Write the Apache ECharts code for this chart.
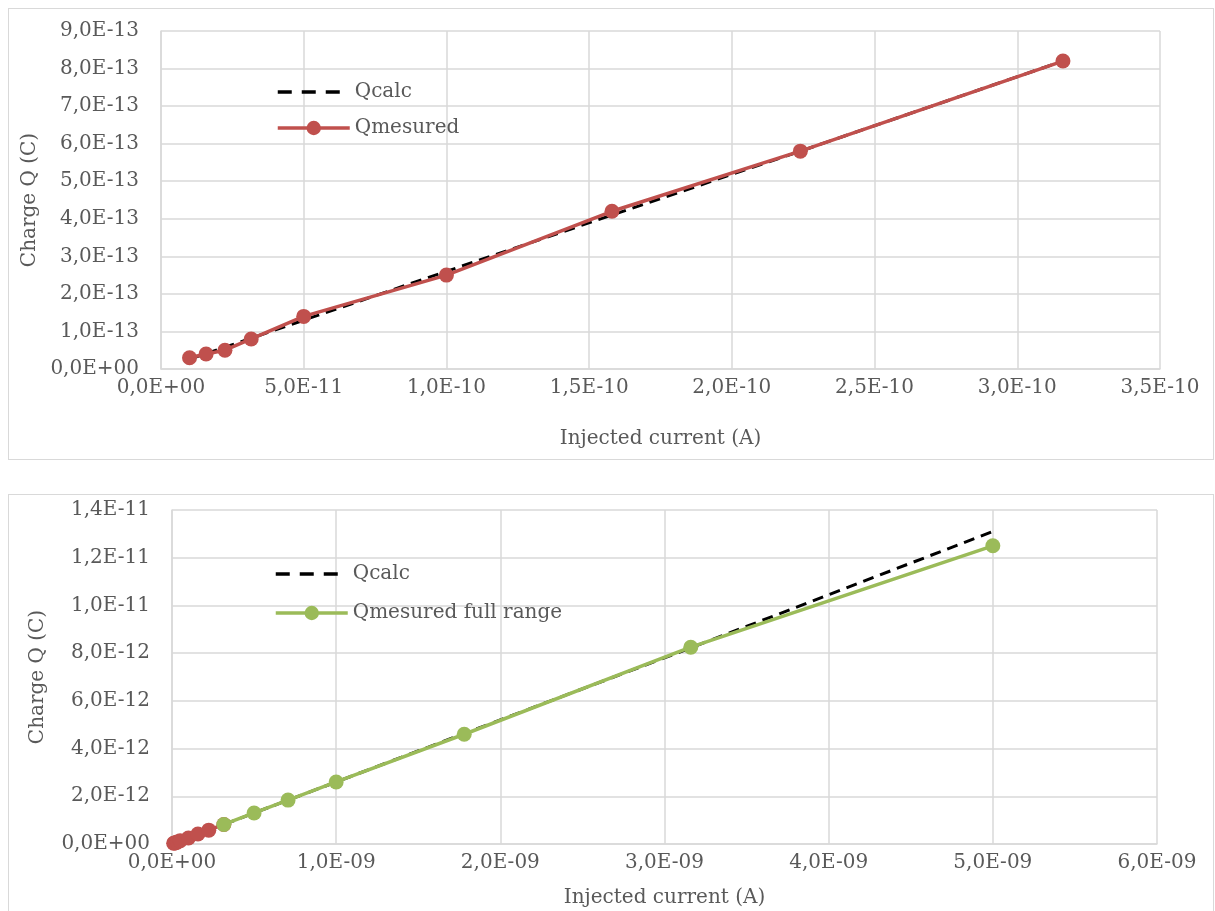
<!DOCTYPE html>
<html>
<head>
<meta charset="utf-8">
<script src="https://cdn.jsdelivr.net/npm/echarts@6/dist/echarts.min.js"></script>
<style>
  body { margin: 0; background: #fff; }
  .box { position: absolute; left: 8px; width: 1204px; border: 1px solid #d9d9d9; background: #fff; }
  #top { top: 8px; height: 450px; }
  #bottom { top: 494px; height: 430px; }
</style>
</head>
<body>
<div id="top" class="box"></div>
<div id="bottom" class="box"></div>
<script>
// top chart data
var currentTop = [1e-11, 1.58e-11, 2.24e-11, 3.16e-11, 5e-11, 1e-10, 1.58e-10, 2.24e-10, 3.16e-10];
var qcalcTop = [2.6e-14, 4.1e-14, 5.8e-14, 8.2e-14, 1.3e-13, 2.6e-13, 4.1e-13, 5.8e-13, 8.2e-13];
var qmesTop = [3e-14, 4e-14, 5e-14, 8e-14, 1.4e-13, 2.5e-13, 4.2e-13, 5.8e-13, 8.2e-13];

// bottom chart data
var currentFull = [3.16e-10, 5e-10, 7.07e-10, 1e-9, 1.78e-9, 3.16e-9, 5e-9];
var qcalcFull = [8.2e-13, 1.3e-12, 1.84e-12, 2.6e-12, 4.63e-12, 8.22e-12, 1.31e-11];
var qmesFull = [8.2e-13, 1.3e-12, 1.84e-12, 2.6e-12, 4.6e-12, 8.25e-12, 1.25e-11];

var FONT = '"DejaVu Serif", "Liberation Serif", serif';
var TXT = '#595959';
var GRID = '#d9d9d9';

function sci(v) {
    if (v === 0) return '0,0E+00';
    var e = Math.floor(Math.log10(Math.abs(v)) + 1e-9);
    var m = (v / Math.pow(10, e)).toFixed(1).replace('.', ',');
    var s = e < 0 ? '-' : '+';
    var a = Math.abs(e);
    return m + 'E' + s + (a < 10 ? '0' + a : a);
}

function pairs(xs, ys) {
    return xs.map(function (x, i) { return [x, ys[i]]; });
}

function axis(min, max, step, name, gap, rot, margin) {
    return {
        type: 'value', min: min, max: max, interval: step,
        name: name, nameLocation: 'middle', nameGap: gap, nameRotate: rot,
        nameTextStyle: { color: TXT, fontFamily: FONT, fontSize: 20 },
        axisLine: { show: true, lineStyle: { color: GRID, width: 1.5 } },
        axisTick: { show: false },
        splitLine: { show: true, lineStyle: { color: GRID, width: 1.5 } },
        axisLabel: { color: TXT, fontFamily: FONT, fontSize: 20, formatter: sci, margin: margin }
    };
}

function calcSeries(data) {
    return {
        name: 'Qcalc', type: 'line', data: data, symbol: 'none', z: 2,
        lineStyle: { color: '#000', width: 3, type: [11, 7] },
        itemStyle: { color: '#000' }
    };
}

function mesSeries(name, data, color, z) {
    return {
        name: name, type: 'line', data: data, symbol: 'circle', symbolSize: 15, z: z,
        lineStyle: { color: color, width: 3.5 },
        itemStyle: { color: color }
    };
}

function legendOf(left, top, gap, names) {
    return {
        orient: 'vertical', left: left, top: top, itemWidth: 72, itemHeight: 18, itemGap: gap,
        textStyle: { color: TXT, fontFamily: FONT, fontSize: 20 },
        data: [
            { name: names[0], itemStyle: { opacity: 0 }, lineStyle: { width: 3.5, type: [14, 10] } },
            { name: names[1], lineStyle: { width: 3.5 } }
        ]
    };
}

var chartTop = echarts.init(document.getElementById('top'));
chartTop.setOption({
    animation: false,
    grid: { left: 152, right: 53, top: 22, bottom: 90 },
    legend: legendOf(262, 68, 16, ['Qcalc', 'Qmesured']),
    xAxis: axis(0, 3.5e-10, 5e-11, 'Injected current (A)', 60, 0, 9),
    yAxis: axis(0, 9e-13, 1e-13, 'Charge Q (C)', 114, 90, 22),
    series: [
        calcSeries(pairs(currentTop, qcalcTop)),
        mesSeries('Qmesured', pairs(currentTop, qmesTop), '#c0504d', 3)
    ]
});

var chartBottom = echarts.init(document.getElementById('bottom'));
chartBottom.setOption({
    animation: false,
    grid: { left: 163, right: 56, top: 15, bottom: 81 },
    legend: legendOf(260, 64, 19, ['Qcalc', 'Qmesured full range']),
    xAxis: axis(0, 6e-9, 1e-9, 'Injected current (A)', 44, 0, 9),
    yAxis: axis(0, 1.4e-11, 2e-12, 'Charge Q (C)', 124, 90, 22),
    series: [
        mesSeries('Qmesured', pairs(currentTop, qmesTop), '#c0504d', 3),
        calcSeries(pairs(currentFull, qcalcFull)),
        mesSeries('Qmesured full range', pairs(currentFull, qmesFull), '#9bbb59', 4)
    ]
});
</script>
</body>
</html>
